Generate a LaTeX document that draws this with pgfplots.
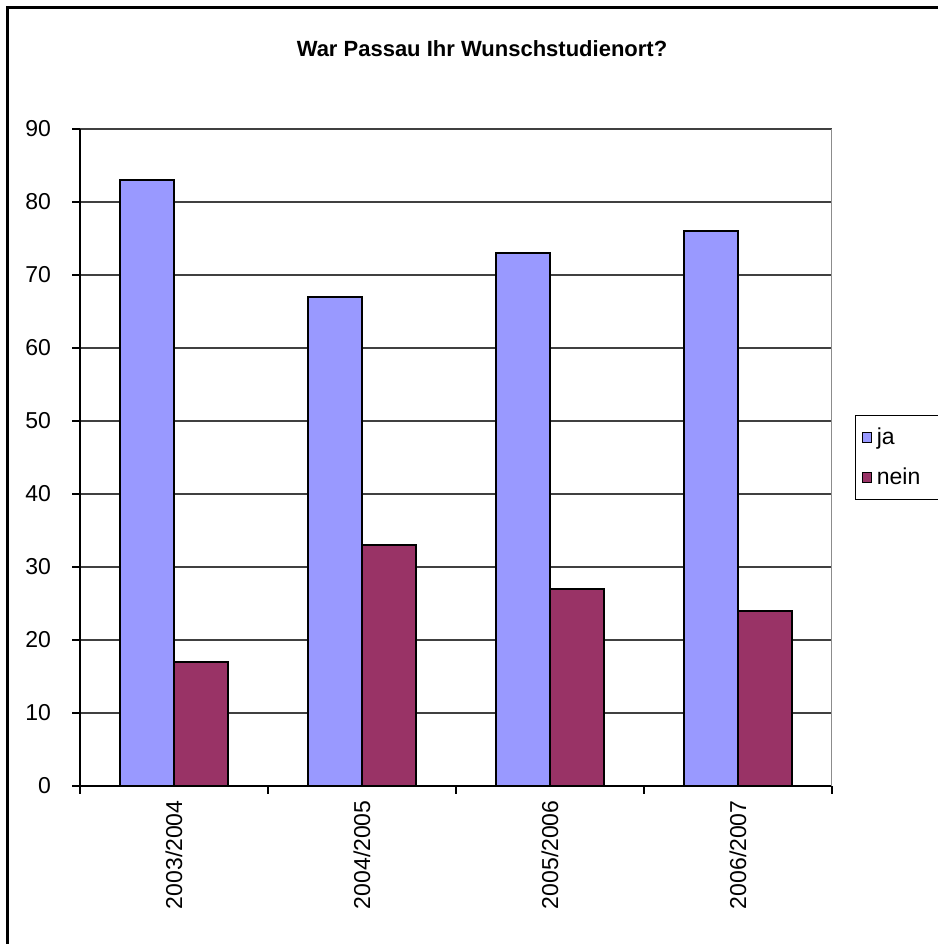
\documentclass[border=0pt]{standalone}
\usepackage{pgfplots}
\pgfplotsset{compat=1.18}
\usepackage{fontspec}
\setmainfont{Liberation Sans}
\definecolor{jacol}{HTML}{9999FF}
\definecolor{neincol}{HTML}{993366}
\begin{document}
\begin{tikzpicture}
\useasboundingbox (0,0) rectangle (469pt,-472pt);
\begin{scope}
\clip (0,0) rectangle (469pt,-472pt);
\draw[line width=1.1pt] (3.75pt,-3.75pt) rectangle (520pt,-520pt);
\end{scope}
\node[font=\bfseries\fontsize{11}{13}\selectfont] at (241pt,-24.5pt) {War Passau Ihr Wunschstudienort?};
\begin{axis}[
  at={(40pt,-393pt)}, anchor=south west,
  scale only axis, width=376pt, height=328.5pt,
  ymin=0, ymax=90, ytick={0,10,...,90},
  xmin=-0.5, xmax=3.5,
  xtick={-0.5,0.5,1.5,2.5,3.5}, xticklabels={,,,,},
  extra x ticks={0,1,2,3},
  extra x tick labels={2003/2004,2004/2005,2005/2006,2006/2007},
  extra x tick style={major tick length=0pt, xmajorgrids=false},
  xticklabel style={rotate=90, anchor=east, inner xsep=7pt, inner ysep=0pt},
  yticklabel style={inner xsep=0pt, xshift=-10.5pt},
  tick label style={font=\fontsize{11.5}{13}\selectfont},
  /pgf/number format/assume math mode=true,
  ybar=0pt, bar width=27pt,
  axis lines=left, axis line style={-, black, line width=0.7pt},
  tick align=outside, major tick length=3.8pt,
  tick style={black, line width=0.7pt},
  ymajorgrids, major grid style={black!75, line width=0.6pt},
  legend style={at={(1,0.5)}, anchor=west, xshift=11.5pt, draw=black, line width=0.5pt,
    font=\fontsize{11.5}{13}\selectfont, row sep=6pt, inner xsep=3.5pt, inner ysep=4pt,
    nodes={inner xsep=2.2pt}},
  legend cell align=left,
  legend image code/.code={\draw[#1, line width=0.5pt] (0pt,-2.4pt) rectangle (4.5pt,2.4pt);},
]
\addplot[fill=jacol, draw=black, line width=0.8pt] coordinates {(0,83) (1,67) (2,73) (3,76)};
\addplot[fill=neincol, draw=black, line width=0.8pt] coordinates {(0,17) (1,33) (2,27) (3,24)};
\legend{ja\hspace*{20pt}, nein\hspace*{20pt}}
\draw[black!45, line width=0.9pt] (rel axis cs:1,0) -- (rel axis cs:1,1);
\end{axis}
\end{tikzpicture}
\end{document}
